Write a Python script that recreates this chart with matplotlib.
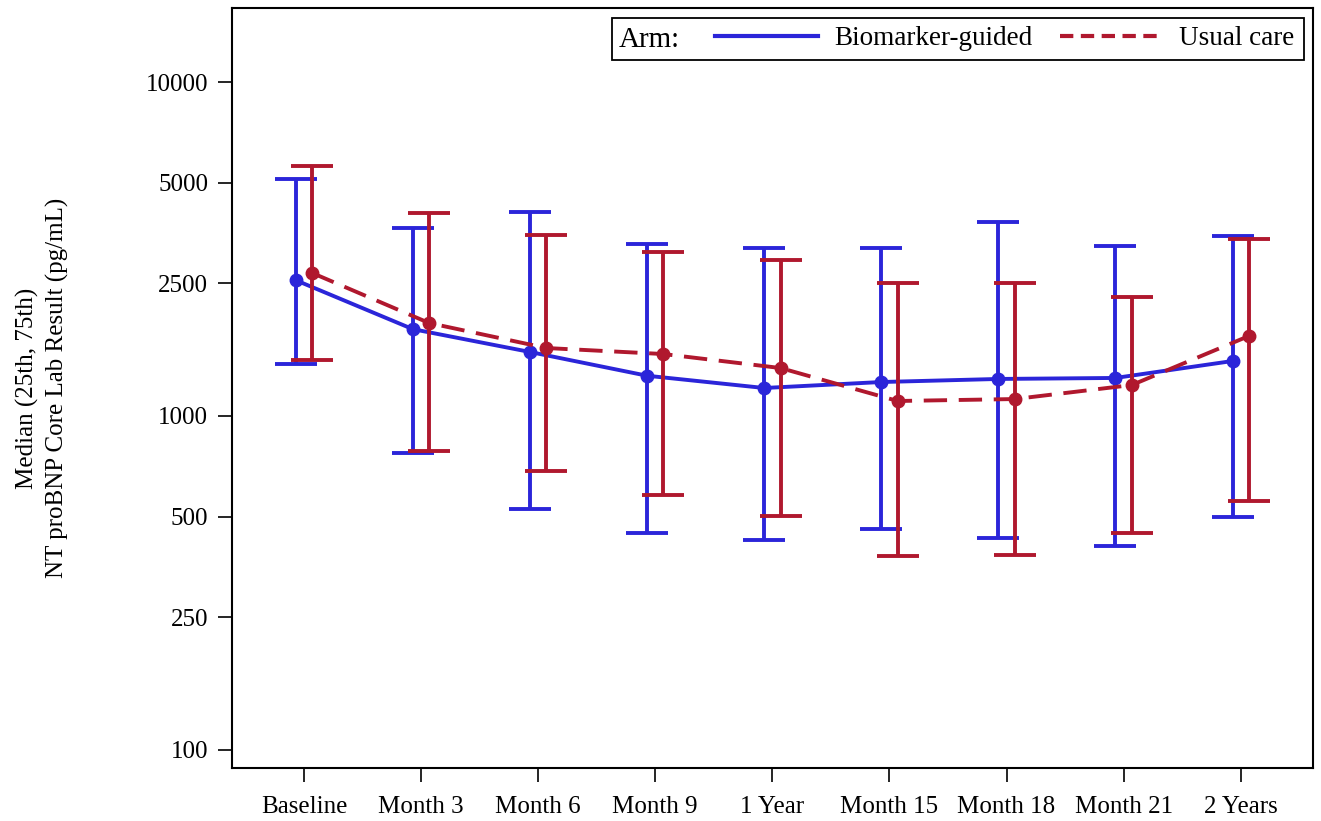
import matplotlib
matplotlib.use("Agg")
import matplotlib.pyplot as plt
from matplotlib.patches import Rectangle
from matplotlib.lines import Line2D
import numpy as np

plt.rcParams['font.family'] = ['Liberation Serif', 'DejaVu Serif']

visits = ["Baseline", "Month 3", "Month 6", "Month 9", "1 Year",
          "Month 15", "Month 18", "Month 21", "2 Years"]

bio_med = [2550, 1820, 1555, 1320, 1213, 1264, 1291, 1300, 1461]
bio_q1 = [1431, 775, 527, 446, 425, 459, 431, 408, 500]
bio_q3 = [5125, 3656, 4081, 3273, 3184, 3184, 3810, 3228, 3458]

usual_med = [2681, 1898, 1598, 1533, 1392, 1109, 1124, 1238, 1736]
usual_q1 = [1471, 786, 684, 580, 502, 381, 383, 446, 557]
usual_q3 = [5604, 4053, 3483, 3097, 2931, 2502, 2502, 2271, 3388]

yticks = [100, 250, 500, 1000, 2500, 5000, 10000]

blue = "#2B25D9"
red = "#B0182E"

fig = plt.figure(figsize=(13.21, 8.21), dpi=100)
ax = fig.add_axes([0.1756, 0.0646, 0.8183, 0.9257])

pos = np.arange(len(visits))


def draw_arm(x, med, q1, q3, color, ls):
    med = np.array(med)
    err = [med - np.array(q1), np.array(q3) - med]
    ax.errorbar(x, med, yerr=err, fmt="none", ecolor=color, elinewidth=2.8,
                capsize=15, capthick=2.8)
    ax.plot(x, med, color=color, lw=2.8, ls=ls, marker="o", markersize=9)


draw_arm(pos - 0.07, bio_med, bio_q1, bio_q3, blue, "-")
draw_arm(pos + 0.07, usual_med, usual_q1, usual_q3, red, (0, (6, 3)))

ax.set_yscale("log")
ax.set_ylim(88.3, 16670)
ax.set_xlim(-0.615, 8.617)
ax.set_yticks(yticks)
ax.set_yticklabels([str(v) for v in yticks])
ax.yaxis.set_minor_locator(matplotlib.ticker.NullLocator())
ax.set_xticks(pos)
ax.set_xticklabels(visits)
ax.tick_params(axis="both", labelsize=18, length=10, width=1.2, direction="out")
ax.tick_params(axis="x", pad=10)
ax.tick_params(axis="y", pad=7)
for sp in ax.spines.values():
    sp.set_linewidth(1.5)

ax.set_ylabel("Median (25th, 75th)\nNT proBNP Core Lab Result (pg/mL)",
              fontsize=18, labelpad=55, linespacing=1.4)

# legend box with leading "Arm:" label
ax.add_patch(Rectangle((0.3515, 0.9316), 0.6402, 0.0552, transform=ax.transAxes,
                       fill=False, lw=1.3, ec="black", zorder=5))
ax.text(0.3578, 0.9580, "Arm:", transform=ax.transAxes, fontsize=21,
        va="center", ha="left")
handles = [Line2D([], [], color=blue, lw=3),
           Line2D([], [], color=red, lw=3, ls=(0, (3.2, 1.8)))]
ax.legend(handles, ["Biomarker-guided", "Usual care"], ncol=2, frameon=False,
          fontsize=19.5, loc="center right", bbox_to_anchor=(0.9925, 0.9592),
          handlelength=3.8, columnspacing=1.0, handletextpad=0.6,
          borderaxespad=0)

fig.savefig("out.png", dpi=100)
